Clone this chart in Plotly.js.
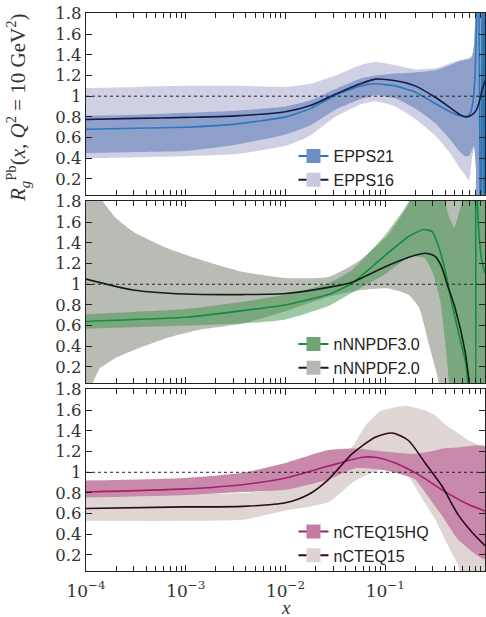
<!DOCTYPE html>
<html><head><meta charset="utf-8">
<script src="https://cdn.plot.ly/plotly-3.0.1.min.js"></script>
<style>html,body{margin:0;padding:0;background:#fff;}#chart{width:486px;height:617px;}</style>
</head><body><div id="chart"></div>
<script>
// ---- x grids are log10(x) ----
// Panel 1: EPPS21 / EPPS16
const epps21LineX = [-4,-3.5,-3,-2.5,-2,-1.75,-1.5,-1.25,-1.1,-0.9,-0.7,-0.5,-0.35,-0.25,-0.19,-0.15,-0.12,-0.1,-0.085,-0.07,-0.04,-0.025,-0.01,0];
const epps21LineY = [0.68,0.69,0.70,0.73,0.80,0.88,1.01,1.10,1.12,1.10,1.04,0.93,0.85,0.81,0.80,0.83,0.95,1.2,1.7,3.0,-1,3,-1,3];
const epps16LineX = [-4,-3.5,-3,-2.5,-2,-1.75,-1.5,-1.25,-1.1,-0.9,-0.7,-0.5,-0.35,-0.25,-0.19,-0.13,-0.09,-0.05,-0.03,0];
const epps16LineY = [0.775,0.785,0.795,0.81,0.85,0.91,1.02,1.12,1.165,1.15,1.10,0.99,0.89,0.82,0.80,0.82,0.86,0.97,1.06,1.15];
const eppsBandX = [-4,-3.5,-3,-2.5,-2,-1.75,-1.5,-1.25,-1.1,-0.9,-0.7,-0.5,-0.35,-0.25,-0.2,-0.16,-0.13,-0.11,-0.09,-0.08,0];
const epps21Hi = [0.81,0.82,0.84,0.86,0.90,0.96,1.07,1.17,1.20,1.22,1.23,1.25,1.30,1.34,1.35,1.36,1.38,1.5,2.0,2.5,2.5];
const epps21Lo = [0.45,0.46,0.47,0.53,0.63,0.72,0.87,0.97,1.01,0.98,0.88,0.74,0.58,0.46,0.42,0.42,0.48,0.52,0.30,-0.5,-0.5];
const epps16Hi = [1.08,1.09,1.10,1.10,1.09,1.12,1.20,1.30,1.33,1.30,1.26,1.27,1.32,1.35,1.36,1.37,1.40,1.5,2.0,2.5,2.5];
const epps16Lo = [0.40,0.41,0.42,0.44,0.52,0.62,0.80,0.92,0.95,0.90,0.78,0.62,0.45,0.30,0.24,0.18,0.40,0.50,0.30,-0.5,-0.5];

// Panel 2: nNNPDF3.0 / nNNPDF2.0
const nn20LineX = [-4,-3.53,-3,-2.43,-2,-1.57,-1.33,-1.0,-0.7,-0.6,-0.5,-0.44,-0.38,-0.3,-0.2,-0.14];
const nn20LineY = [1.05,0.945,0.905,0.90,0.91,0.97,1.02,1.17,1.28,1.30,1.27,1.18,1.0,0.77,0.35,-0.1];
const nn20BandX = [-4,-3.86,-3.83,-3.7,-3.53,-3.19,-2.86,-2.43,-2,-1.57,-1.27,-0.97,-0.77,-0.66,-0.56,-0.47,-0.4,-0.3,0];
const nn20Hi = [2.4,1.87,1.8,1.64,1.51,1.35,1.24,1.12,1.06,1.07,1.22,1.48,1.77,2.0,2.5,2.5,2.5,2.5,2.5];
const nn20Lo = [-0.1,0.19,0.21,0.29,0.36,0.48,0.56,0.62,0.74,0.88,0.94,0.96,0.90,0.77,0.41,0.08,-0.5,-0.5,-0.5];
const nn30LineX = [-4,-3,-2.43,-2,-1.57,-1.33,-1.0,-0.77,-0.62,-0.53,-0.46,-0.39,-0.33,-0.26,-0.19,-0.15,-0.1,-0.095,-0.09,-0.06,-0.03,0];
const nn30LineY = [0.64,0.68,0.745,0.80,0.90,1.01,1.28,1.46,1.53,1.51,1.35,1.09,0.80,0.51,0.22,-0.2,-0.5,2.5,2.2,1.48,1.22,1.11];
const nn30BandX = [-4,-3,-2.43,-2,-1.57,-1.33,-1.0,-0.83,-0.73,-0.6,-0.52,-0.45,-0.4,-0.36,-0.31,-0.23,-0.15,0];
const nn30Hi = [0.71,0.76,0.83,0.90,1.01,1.14,1.48,1.70,1.85,2.0,2.0,1.95,1.8,1.65,1.55,1.8,2.5,2.5];
const nn30Lo = [0.57,0.60,0.62,0.66,0.79,0.92,1.10,1.22,1.27,1.25,1.10,0.85,0.45,0.05,-0.5,-0.5,-0.5,-0.5];

// Panel 3: nCTEQ15HQ / nCTEQ15
const hqLineX = [-4,-3,-2.43,-2,-1.57,-1.23,-1.1,-0.9,-0.67,-0.43,-0.17,0];
const hqLineY = [0.81,0.84,0.88,0.945,1.06,1.145,1.145,1.09,0.98,0.83,0.69,0.625];
const hqBandX = [-4,-3,-2.43,-2,-1.57,-1.3,-1.0,-0.77,-0.7,-0.5,-0.43,-0.27,0];
const hqHi = [0.92,0.945,0.995,1.09,1.215,1.23,1.20,1.18,1.18,1.21,1.23,1.24,1.25];
const hqLo = [0.755,0.78,0.81,0.83,0.93,1.04,1.02,0.96,0.93,0.67,0.58,0.35,0.16];
const cteqLineX = [-4,-3,-2.43,-2,-1.77,-1.57,-1.33,-1.1,-0.93,-0.77,-0.6,-0.43,-0.27,-0.13,0];
const cteqLineY = [0.65,0.665,0.67,0.705,0.785,0.93,1.18,1.34,1.38,1.31,1.09,0.865,0.59,0.42,0.29];
const cteqBandX = [-4,-3,-2.43,-2,-1.57,-1.33,-1.2,-1.05,-0.9,-0.77,-0.6,-0.5,-0.37,-0.27,-0.17,0];
const cteqHi = [0.78,0.79,0.80,0.85,1.10,1.25,1.45,1.59,1.63,1.64,1.60,1.55,1.44,1.38,1.31,1.22];
const cteqLo = [0.53,0.53,0.54,0.63,0.71,0.90,0.97,1.02,1.01,0.96,0.70,0.545,0.29,0.1,-0.3,-0.5];

// ticks
const xTickVals = [1e-4,1e-3,1e-2,1e-1,1];
const xTickText = ['10<sup>−4</sup>','10<sup>−3</sup>','10<sup>−2</sup>','10<sup>−1</sup>','1'];
const yTickVals = [0.2,0.4,0.6,0.8,1,1.2,1.4,1.6,1.8];
const yTickText = ['0.2','0.4','0.6','0.8','1','1.2','1.4','1.6','1.8'];

const toX = a => a.map(t => Math.pow(10, t));

function band(xs, hi, lo, color, xa, ya) {
  const X = toX(xs);
  return {x: X.concat(X.slice().reverse()), y: hi.concat(lo.slice().reverse()),
    type:'scatter', mode:'lines', fill:'toself', fillcolor:color,
    line:{width:0, shape:'spline', smoothing:0.5},
    hoverinfo:'skip', showlegend:false, xaxis:xa, yaxis:ya};
}
function curve(xs, ys, color, xa, ya, smooth) {
  return {x: toX(xs), y: ys, type:'scatter', mode:'lines',
    line:{color:color, width:1.6, shape:'spline', smoothing:(smooth===undefined?0.7:smooth)},
    hoverinfo:'skip', showlegend:false, xaxis:xa, yaxis:ya};
}
function legendItem(name, box, lineColor, lg, xa, ya) {
  return {x:[null], y:[null], type:'scatter', mode:'lines+markers', name:name,
    line:{color:lineColor, width:2}, marker:{symbol:'square', size:14, color:box},
    showlegend:true, legend:lg, xaxis:xa, yaxis:ya};
}

const C = {
  e21Band:'rgb(142,160,202)', e16Band:'rgb(208,208,229)', e21Line:'rgb(43,120,185)', e16Line:'rgb(22,26,72)',
  n20Band:'rgb(185,188,181)', n30Band:'rgba(60,145,72,0.5)', n30Line:'rgb(18,140,62)', n20Line:'rgb(15,32,20)',
  hqBand:'rgb(201,137,171)', ctBand:'rgb(223,214,212)', hqLine:'rgb(166,30,110)', ctLine:'rgb(42,10,26)'
};

const data = [
  band(eppsBandX, epps16Hi, epps16Lo, C.e16Band, 'x', 'y'),
  band(eppsBandX, epps21Hi, epps21Lo, C.e21Band, 'x', 'y'),
  curve(epps21LineX, epps21LineY, C.e21Line, 'x', 'y', 0.4),
  curve(epps16LineX, epps16LineY, C.e16Line, 'x', 'y'),
  legendItem('EPPS21', 'rgb(110,143,196)', C.e21Line, 'legend', 'x', 'y'),
  legendItem('EPPS16', 'rgb(200,200,224)', C.e16Line, 'legend', 'x', 'y'),

  band(nn20BandX, nn20Hi, nn20Lo, C.n20Band, 'x2', 'y2'),
  band(nn30BandX, nn30Hi, nn30Lo, C.n30Band, 'x2', 'y2'),
  curve(nn30LineX, nn30LineY, C.n30Line, 'x2', 'y2', 0.4),
  curve(nn20LineX, nn20LineY, C.n20Line, 'x2', 'y2'),
  legendItem('nNNPDF3.0', 'rgb(112,166,118)', C.n30Line, 'legend2', 'x2', 'y2'),
  legendItem('nNNPDF2.0', 'rgb(182,185,178)', C.n20Line, 'legend2', 'x2', 'y2'),

  band(cteqBandX, cteqHi, cteqLo, C.ctBand, 'x3', 'y3'),
  band(hqBandX, hqHi, hqLo, C.hqBand, 'x3', 'y3'),
  curve(hqLineX, hqLineY, C.hqLine, 'x3', 'y3'),
  curve(cteqLineX, cteqLineY, C.ctLine, 'x3', 'y3'),
  legendItem('nCTEQ15HQ', 'rgb(197,122,165)', C.hqLine, 'legend3', 'x3', 'y3'),
  legendItem('nCTEQ15', 'rgb(221,211,208)', C.ctLine, 'legend3', 'x3', 'y3')
];

const axCol = '#222';
function xAxis(anchor, labels) {
  return {type:'log', range:[-4,0], anchor:anchor, tickmode:'array', tickvals:xTickVals, ticktext:xTickText,
    showticklabels:labels, ticks:'inside', ticklen:6, tickwidth:1, tickcolor:axCol, ticklabelstandoff:4,
    showline:true, linecolor:axCol, linewidth:1.2, mirror:'ticks', showgrid:false, zeroline:false,
    minor:{ticks:'inside', ticklen:5, tickwidth:1, tickcolor:axCol, dtick:'D1', showgrid:false},
    tickfont:{family:'DejaVu Serif', size:17, color:'#333'}};
}
function yAxis(anchor, dom) {
  return {range:[0.045,1.805], domain:dom, anchor:anchor, tickmode:'array', tickvals:yTickVals, ticktext:yTickText,
    ticks:'inside', ticklen:6, tickwidth:1, tickcolor:axCol, showline:true, linecolor:axCol, linewidth:1.2,
    mirror:'ticks', showgrid:false, zeroline:false,
    tickfont:{family:'DejaVu Serif', size:16.5, color:'#333'}};
}
const legFont = {family:'Liberation Sans', size:16, color:'#222'};
function leg(y) {
  return {x:0.52, xanchor:'left', y:y, yanchor:'middle', bgcolor:'rgba(0,0,0,0)', borderwidth:0,
    font:legFont, itemwidth:30, tracegroupgap:0};
}
function unityLine(ya) {
  return {type:'line', xref:(ya==='y'?'x':'x'+ya.slice(1))+' domain', x0:0, x1:1, yref:ya, y0:1, y1:1,
    line:{color:'#222', width:1, dash:'dot'}, layer:'above'};
}

const layout = {
  width:486, height:617, margin:{l:86, r:1, t:13, b:46},
  paper_bgcolor:'#fff', plot_bgcolor:'#fff', showlegend:true,
  xaxis:xAxis('y', false), xaxis2:xAxis('y2', false), xaxis3:xAxis('y3', true),
  yaxis:yAxis('x', [0.674,1]), yaxis2:yAxis('x2', [0.337,0.663]), yaxis3:yAxis('x3', [0,0.326]),
  legend:leg(0.722), legend2:leg(0.385), legend3:leg(0.049),
  shapes:[unityLine('y'), unityLine('y2'), unityLine('y3')],
  annotations:[
    {xref:'paper', yref:'paper', x:-0.17, y:0.83, xanchor:'center', yanchor:'middle', textangle:-90, showarrow:false,
     text:'<i>R</i><sub><i>g</i></sub><sup>Pb</sup>(<i>x</i>, <i>Q</i><sup>2</sup> = 10 GeV<sup>2</sup>)',
     font:{family:'Liberation Serif', size:21, color:'#333'}},
    {xref:'paper', yref:'paper', x:0.501, y:-0.0655, xanchor:'center', yanchor:'middle', showarrow:false,
     text:'<i>x</i>', font:{family:'Liberation Serif', size:19, color:'#333'}}
  ]
};

Plotly.newPlot('chart', data, layout, {staticPlot:true, displayModeBar:false});
</script></body></html>
